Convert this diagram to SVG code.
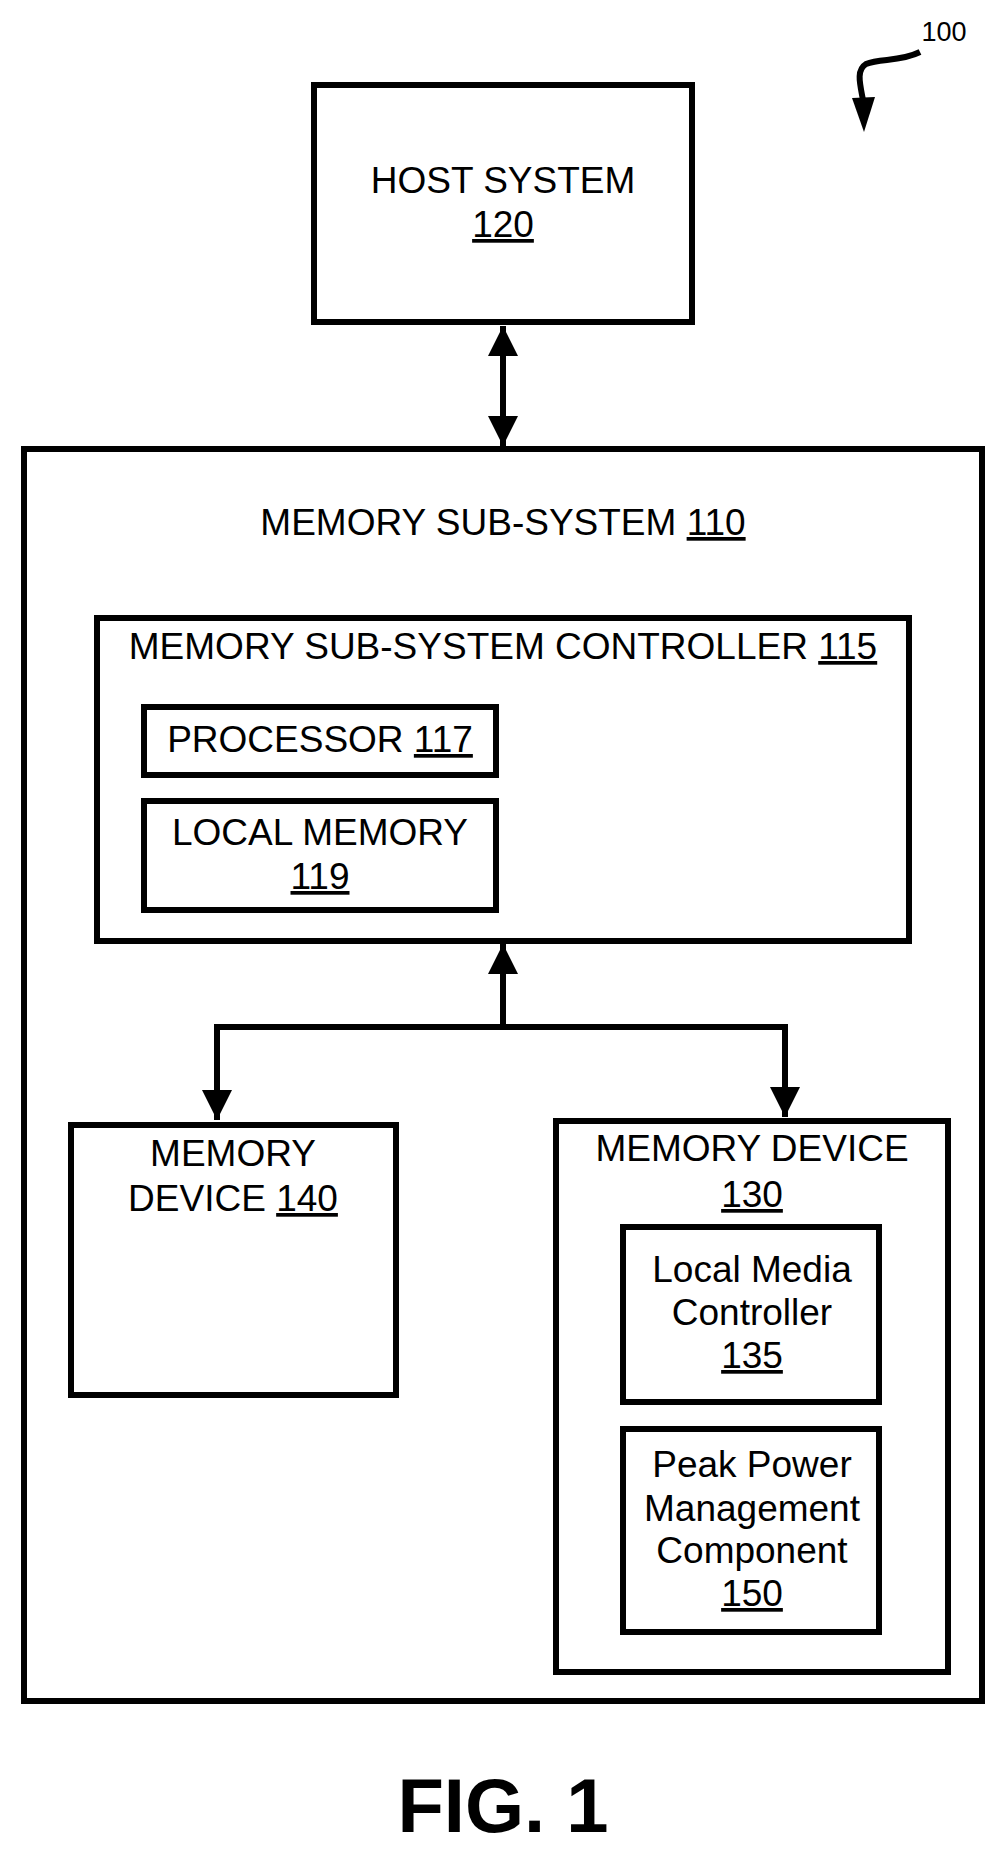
<svg xmlns="http://www.w3.org/2000/svg" width="1006" height="1855" viewBox="0 0 1006 1855">
<style>
.b{fill:#fff;stroke:#000;stroke-width:6}
text{font-family:"Liberation Sans",Arial,sans-serif;font-size:37px;fill:#000;text-anchor:middle}
.u{text-decoration:underline}
.c{stroke:#000;stroke-width:6;fill:none}
</style>
<defs>
<marker id="a" viewBox="0 0 10 10" refX="10" refY="5" markerWidth="5" markerHeight="7" markerUnits="strokeWidth" orient="auto-start-reverse"><path d="M0,0L10,5L0,10z" fill="#000"/></marker>
</defs>
<rect width="1006" height="1855" fill="#fff"/>
<g id="host"><rect class="b" x="314" y="85" width="378" height="237"/><text x="503" y="193">HOST SYSTEM</text><text x="503" y="237" class="u">120</text></g>
<g id="mss"><rect class="b" x="24" y="449" width="958" height="1252"/><text x="503" y="535">MEMORY SUB-SYSTEM <tspan class="u">110</tspan></text></g>
<g id="ctrl"><rect class="b" x="97" y="618" width="812" height="323"/><text x="503" y="659">MEMORY SUB-SYSTEM CONTROLLER <tspan class="u">115</tspan></text></g>
<g id="proc"><rect class="b" x="144" y="707" width="352" height="68"/><text x="320" y="752">PROCESSOR <tspan class="u">117</tspan></text></g>
<g id="lmem"><rect class="b" x="144" y="801" width="352" height="109"/><text x="320" y="845">LOCAL MEMORY</text><text x="320" y="889" class="u">119</text></g>
<g id="md140"><rect class="b" x="71" y="1125" width="325" height="270"/><text x="233" y="1166">MEMORY</text><text x="233" y="1211">DEVICE <tspan class="u">140</tspan></text></g>
<g id="md130"><rect class="b" x="556" y="1121" width="392" height="551"/><text x="752" y="1161">MEMORY DEVICE</text><text x="752" y="1207" class="u">130</text></g>
<g id="lmc"><rect class="b" x="623" y="1227" width="256" height="175"/><text x="752" y="1282">Local Media</text><text x="752" y="1325">Controller</text><text x="752" y="1368" class="u">135</text></g>
<g id="ppm"><rect class="b" x="623" y="1429" width="256" height="203"/><text x="752" y="1477">Peak Power</text><text x="752" y="1521">Management</text><text x="752" y="1563">Component</text><text x="752" y="1606" class="u">150</text></g>
<g id="connectors">
<line class="c" x1="503" y1="326" x2="503" y2="446" marker-start="url(#a)" marker-end="url(#a)"/>
<line class="c" x1="503" y1="1027" x2="503" y2="944" marker-end="url(#a)"/>
<polyline class="c" points="217,1120 217,1027 785,1027 785,1117" marker-start="url(#a)" marker-end="url(#a)"/>
<path d="M920,52C900,62 880,58 866,64C856,70 860,84 863,100" class="c" stroke-width="4"/>
<path d="M852,98L875,97L864,132z" fill="#000"/>
</g>
<text x="944" y="41" style="font-size:27px">100</text>
<text x="503" y="1832" style="font-size:76px;font-weight:bold">FIG. 1</text>
</svg>
